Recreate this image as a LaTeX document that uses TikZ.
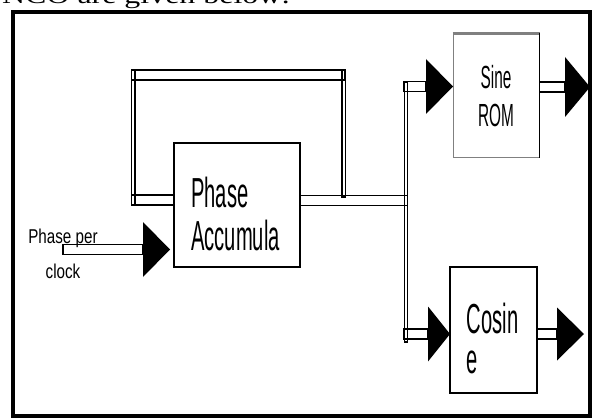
\documentclass[tikz,border=0pt]{standalone}
\usepackage{fontspec}
\newfontfamily\blocksf[FakeStretch=0.48]{Liberation Sans}
\newfontfamily\clocksf[FakeStretch=0.76]{Liberation Sans}
\newfontfamily\capserif[FakeStretch=1.33]{Liberation Serif}
\usepackage{tikz}
\usetikzlibrary{shapes.geometric}

\begin{document}
\begin{tikzpicture}[x=1pt, y=-1pt,
  blk/.style={rectangle, draw=black, line width=1.3pt, fill=white, inner sep=0pt},
  tri/.style={isosceles triangle, isosceles triangle stretches, fill=black, inner sep=0pt,
              outer sep=0pt, minimum height=27pt, minimum width=55pt, anchor=apex},
  hpipe/.style={draw=black, line width=1.2pt,
                to path={([yshift=5pt]\tikztostart) rectangle ([yshift=-5pt]\tikztotarget)}},
  vpipe/.style={draw=black, line width=1.2pt,
                to path={([xshift=-1.6pt]\tikztostart) rectangle ([xshift=1.6pt]\tikztotarget)}},
  lbl/.style={inner sep=0pt, anchor=base west, align=left},
]
\useasboundingbox (0,0) rectangle (595,420);
\node[anchor=base west, inner sep=0pt, font=\capserif\fontsize{24}{24}\selectfont] (cap) at (2,4) {NCO are given below:};
\draw[line width=4pt] (12.5,12.5) rectangle (590,416);

% blocks
\node[blk, minimum width=126pt, minimum height=124pt] (pa) at (237,205) {};
\node[blk, draw=black!50, line width=1pt, minimum width=86pt, minimum height=123pt] (sr) at (496,95.5) {};
\node[blk, minimum width=87pt, minimum height=126pt] (cs) at (493.5,330) {};
\draw[black!50, line width=2.5pt] (sr.north west) -- (sr.north east);
\draw[line width=1pt] (sr.north east) -- (sr.south east);

% labels (base = last line)
\node[lbl, font=\blocksf\fontsize{42}{43}\selectfont] (paT) at (191,250) {Phase\\Accumula};
\node[inner sep=0pt, anchor=base, align=center, font=\blocksf\fontsize{32}{38.5}\selectfont] (srT) at (496,126.7) {Sine\\ROM};
\node[lbl, font=\blocksf\fontsize{42}{40}\selectfont] (csT) at (466.7,373) {Cosin\\e};
\node[inner sep=0pt, anchor=base, align=center, font=\clocksf\fontsize{20}{35}\selectfont] (inT) at (63,278) {Phase per\\clock};

% arrow heads
\node[tri] (tPh) at (170,249.5) {};
\node[tri] (tSi) at (453,86.5) {};
\node[tri, minimum width=60pt, minimum height=25pt] (tSo) at (590,87) {};
\node[tri, minimum height=22pt] (tCi) at (450,334) {};
\node[tri, minimum width=53pt] (tCo) at (584,334) {};

% bus points
\coordinate (src) at (63,249.5);
\coordinate (split) at (407.5,200.5);
\coordinate (paOut) at (split -| pa.east);
\coordinate (fbR1) at (343.5,70);
\coordinate (fbR2) at (343.5,197);
\coordinate (fbTL) at (131.7,75);
\coordinate (fbTR) at (345,75);
\coordinate (fbL1) at (133.4,70);
\coordinate (fbL2) at (133.4,205);
\coordinate (fbBL) at (131.7,200);
\coordinate (paIn) at (fbBL -| pa.west);
\coordinate (busT) at (405.7,82);
\coordinate (busB) at (405.7,342);
\coordinate (siIn) at (404,86.5);
\coordinate (csIn) at (404,334);
\coordinate (srOut) at (tSo.west -| sr.east);
\coordinate (csOut) at (tCo.west -| cs.east);

\draw[hpipe] (src) to (tPh.west);
\draw[hpipe] (paOut) to (split);
\draw[vpipe] (fbR1) to (fbR2);
\draw[hpipe] (fbTL) to (fbTR);
\draw[vpipe] (fbL1) to (fbL2);
\draw[hpipe] (fbBL) to (paIn);
\draw[vpipe] (busT) to (busB);
\draw[hpipe] (siIn) to (tSi.west);
\draw[hpipe] (csIn) to (tCi.west);
\draw[hpipe] (srOut) to (tSo.west);
\draw[hpipe] (csOut) to (tCo.west);
\end{tikzpicture}
\end{document}
